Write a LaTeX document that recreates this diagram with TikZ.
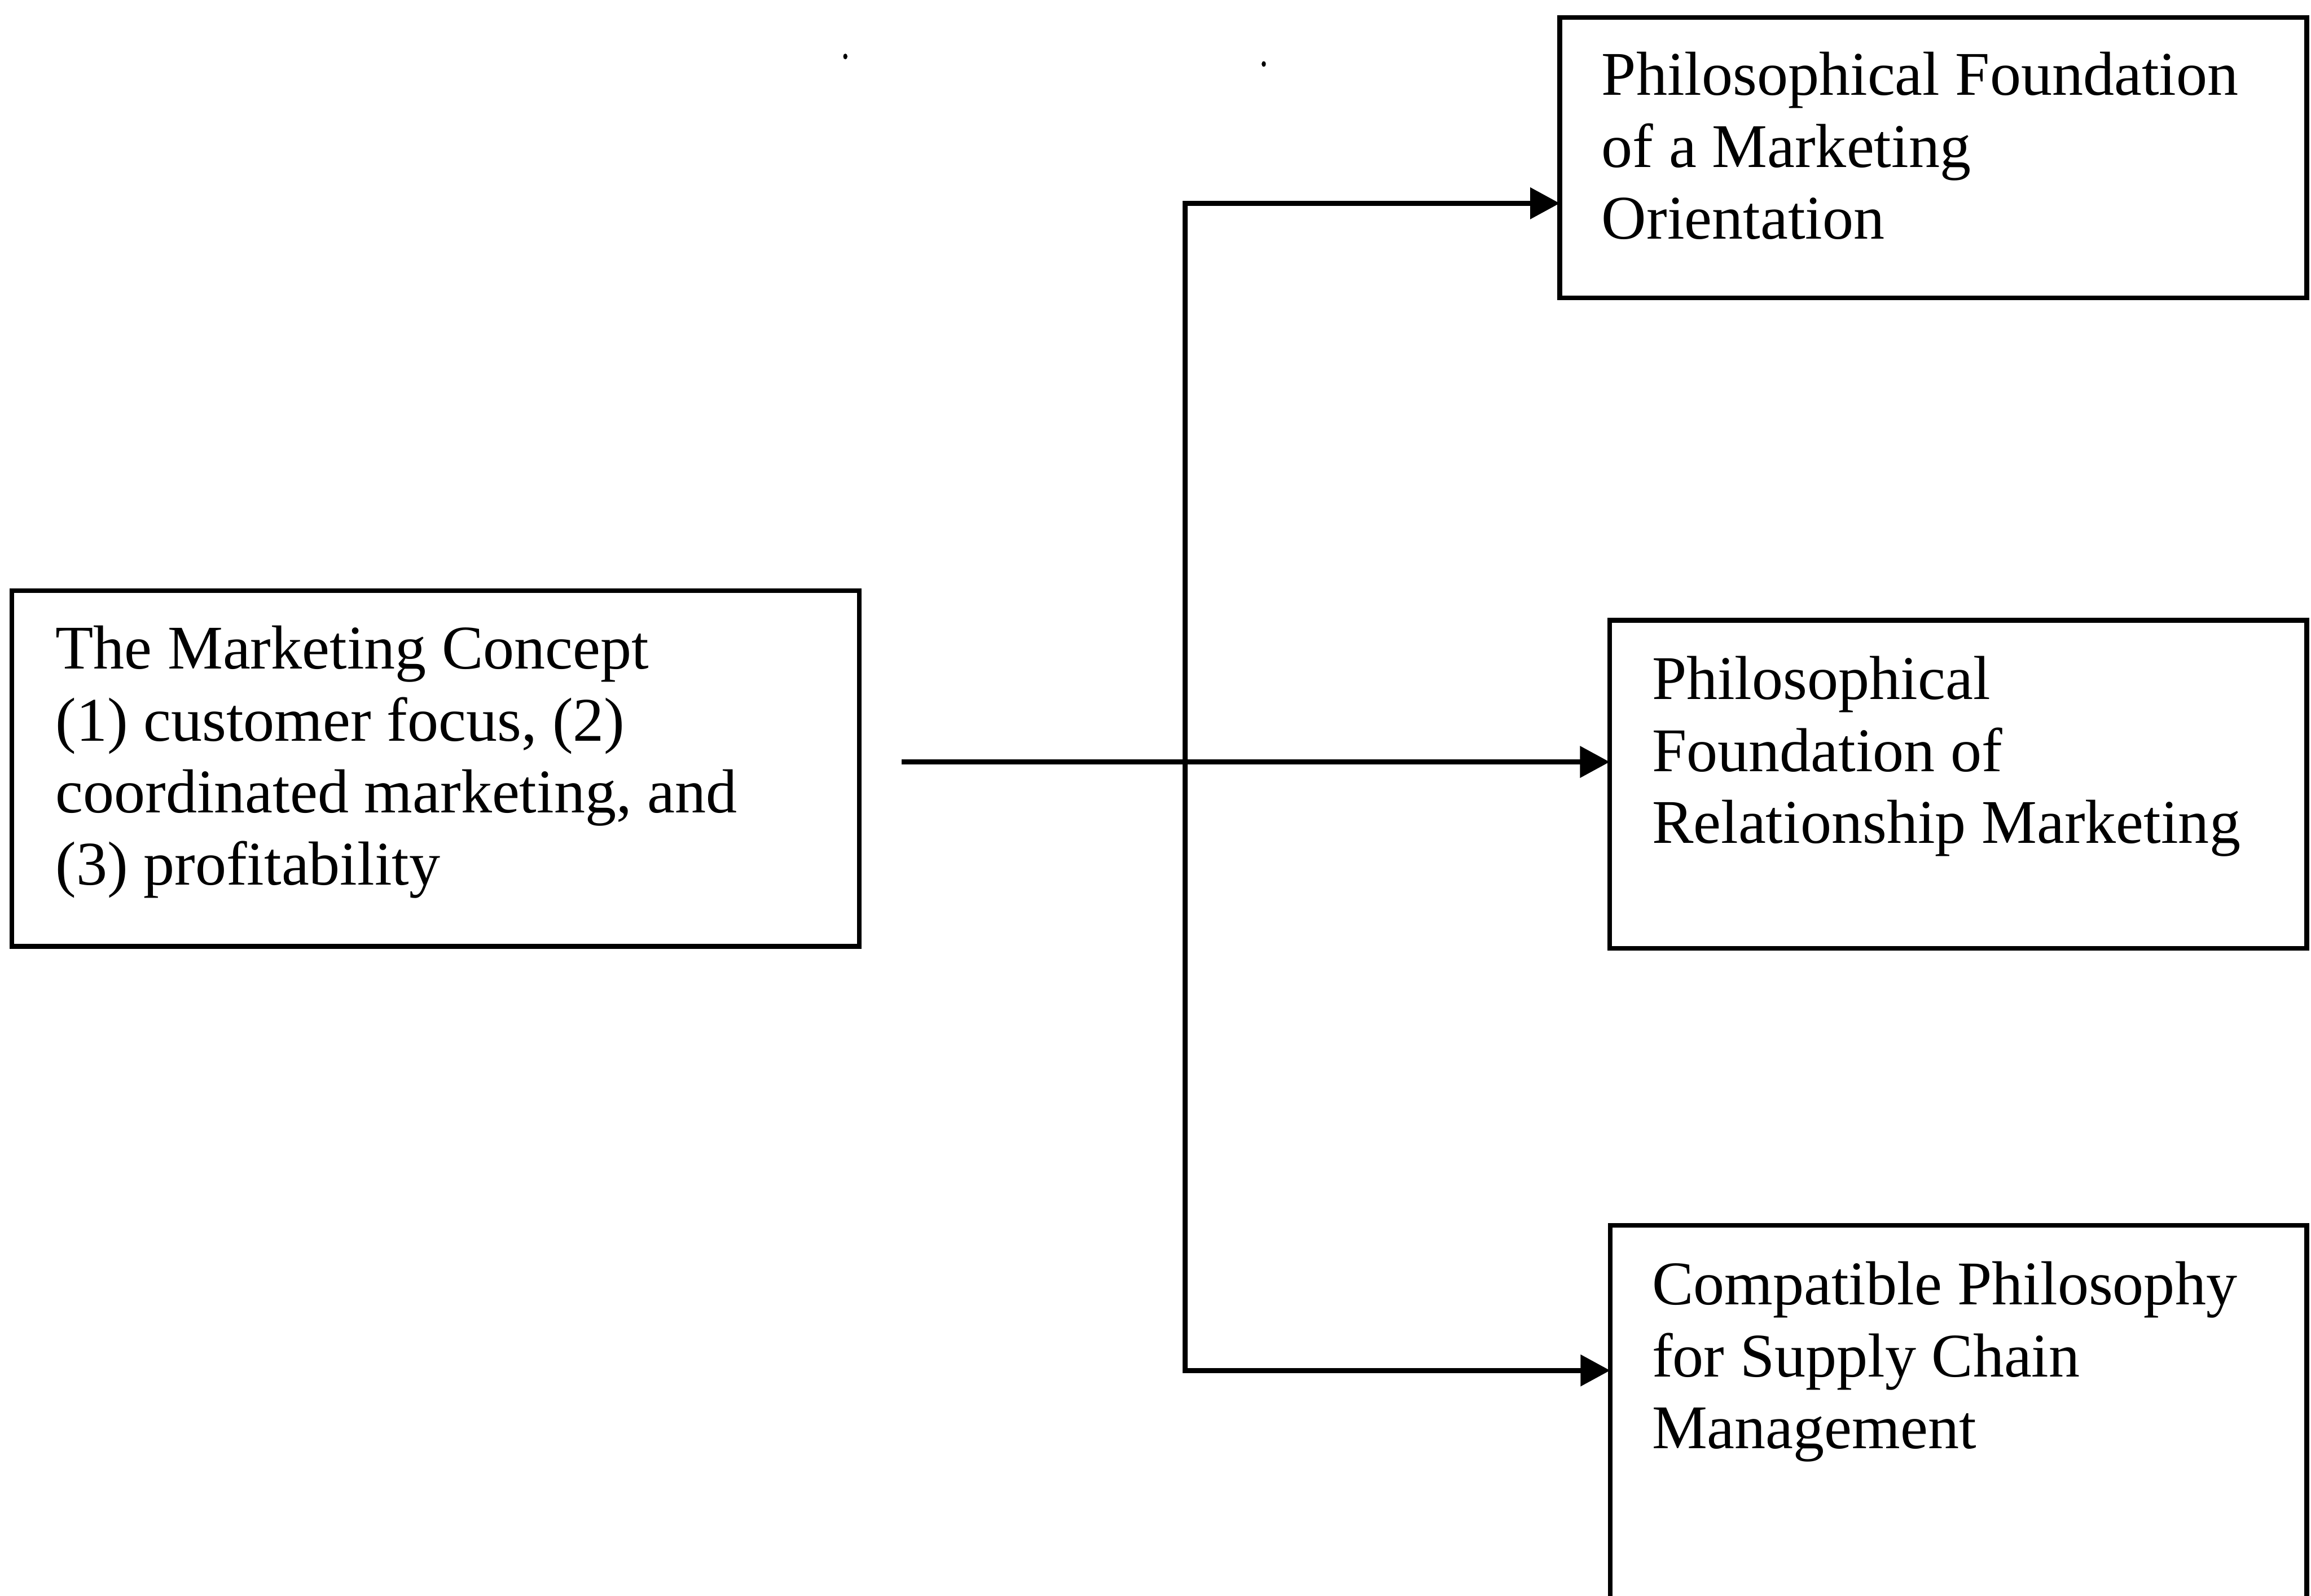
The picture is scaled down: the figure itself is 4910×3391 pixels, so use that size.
\documentclass[tikz,border=0pt]{standalone}
\usepackage{fontspec}
\setmainfont{Liberation Serif}
\usetikzlibrary{arrows.meta}
\begin{document}
\begin{tikzpicture}[x=0.1pt,y=-0.1pt,
  box/.style={draw, line width=1pt, anchor=north west, inner sep=0pt, outer sep=0pt},
  boxtext/.style={anchor=base west, inner sep=0pt, outer sep=0pt,
                  font=\fontsize{13.2pt}{15.3pt}\selectfont},
  wire/.style={line width=1.1pt, line cap=rect},
  arr/.style={line width=1.1pt, -{Triangle[length=6.3pt,width=6.5pt]}}]
% page frame
\clip (0,0) rectangle (4910,3391);
\fill[white] (0,0) rectangle (4910,3391);

% boxes
\node[box, minimum width=180.1pt, minimum height=75.6pt] (concept) at (25,1255) {};
\node[box, minimum width=158.7pt, minimum height=59.6pt] (orient) at (3314,37) {};
\node[box, minimum width=148.1pt, minimum height=69.7pt] (relation) at (3420,1318) {};
\node[box, minimum width=148.0pt, minimum height=90pt] (supply) at (3421,2604) {};

% box texts
\node[boxtext] (concepttext) at (118,1421)
  {\parbox[t]{170pt}{\raggedright The Marketing Concept\\(1) customer focus, (2)\\coordinated marketing, and\\(3) profitability}};
\node[boxtext] (orienttext) at (3403,202)
  {\parbox[t]{150pt}{\raggedright Philosophical Foundation\\of a Marketing\\Orientation}};
\node[boxtext] (relationtext) at (3510,1486)
  {\parbox[t]{140pt}{\raggedright Philosophical\\Foundation of\\Relationship Marketing}};
\node[boxtext] (supplytext) at (3510,2772)
  {\parbox[t]{140pt}{\raggedright Compatible Philosophy\\for Supply Chain\\Management}};

% connectors
\coordinate (vtop) at (2518,432);
\coordinate (vbot) at (2518,2912);
\coordinate (feed) at (1916,1619);
\draw[wire] (vtop) -- (vbot);
\draw[arr] (vtop) -- (vtop -| orient.west);
\draw[arr] (feed) -- (feed -| relation.west);
\draw[arr] (vbot) -- (vbot -| supply.west);

% specks
\fill (1796,120) ellipse [x radius=0.45pt, y radius=0.6pt];
\fill (2685,136) ellipse [x radius=0.45pt, y radius=0.6pt];
\end{tikzpicture}
\end{document}
